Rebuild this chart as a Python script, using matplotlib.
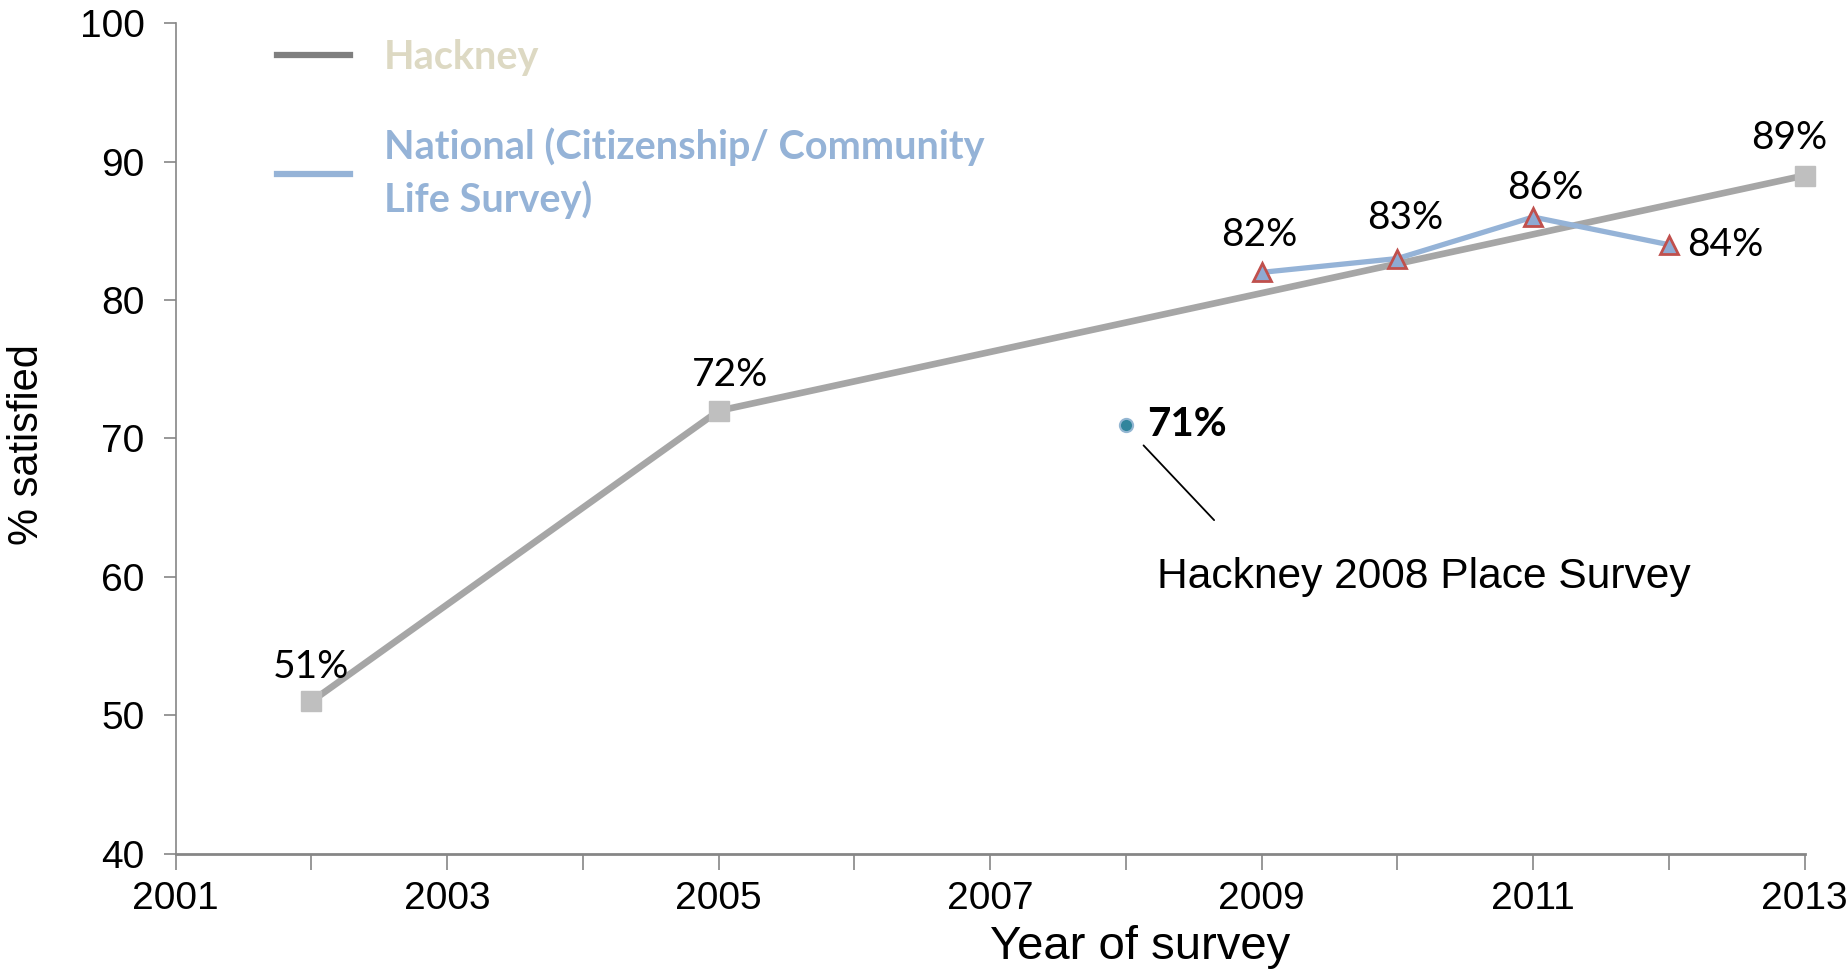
import matplotlib.pyplot as plt
from matplotlib.lines import Line2D

# data
hackney_years = [2002, 2005, 2013]
hackney_vals = [51, 72, 89]
national_years = [2009, 2010, 2011, 2012]
national_vals = [82, 83, 86, 84]
place_year = [2008]
place_val = [71]

# label offsets in points (dx, dy)
hackney_offsets = [(0, 25), (8, 26), (-11, 27)]
national_offsets = [(-2, 27), (6, 29), (9, 21), (13, 0)]

grey_line = '#a6a6a6'
grey_marker = '#bfbfbf'
blue = '#95b3d7'
red = '#c0504d'
axis_col = '#868686'

label_font = 'Lato'
arial = 'Liberation Sans'

fig = plt.figure(figsize=(18.49, 9.69), dpi=100)
ax = fig.add_axes([0.095, 0.119, 0.881, 0.857])

ax.plot(hackney_years, hackney_vals, color=grey_line, lw=4.8, marker='s',
        ms=15, mfc=grey_marker, mec=grey_marker, zorder=3, clip_on=False)
ax.plot(national_years, national_vals, color=blue, lw=3.8, marker='^',
        ms=13.5, mfc='#8eaad3', mec=red, mew=2, zorder=4)
ax.plot(place_year, place_val, ls='none', marker='o', ms=9.5,
        mfc='#31859c', mec='#93b6d2', mew=1.5, zorder=4)

for x, y, off in zip(hackney_years, hackney_vals, hackney_offsets):
    ax.annotate(f'{y}%', (x, y), xytext=off, textcoords='offset points',
                ha='center', va='center', fontsize=28, family=label_font)
for i, (x, y, off) in enumerate(zip(national_years, national_vals, national_offsets)):
    ha = 'left' if i == len(national_years) - 1 else 'center'
    ax.annotate(f'{y}%', (x, y), xytext=off, textcoords='offset points',
                ha=ha, va='center', fontsize=28, family=label_font)
ax.annotate(f'{place_val[0]}%', (place_year[0], place_val[0]), xytext=(15, 0),
            textcoords='offset points', ha='left', va='center', fontsize=29,
            family=label_font, fontweight='bold')

# leader line and note for the 2008 survey
note_start = (2008.13, 69.5)
note_end = (2008.65, 64.1)
ax.annotate('', xy=note_start, xytext=note_end,
            arrowprops=dict(arrowstyle='-', color='black', lw=1.3, shrinkA=0, shrinkB=0))
ax.text(2008.23, 60.0, 'Hackney 2008 Place Survey', fontsize=30.6, family=arial,
        ha='left', va='center')

ax.set_xlim(2001, 2013)
ax.set_ylim(40, 100)
years = list(range(2001, 2014))
ax.set_xticks(years)
ax.set_xticklabels([str(y) if y % 2 == 1 else '' for y in years])
ax.set_yticks(range(40, 101, 10))

for s in ['top', 'right']:
    ax.spines[s].set_visible(False)
ax.spines['left'].set_color(axis_col)
ax.spines['left'].set_linewidth(1.2)
ax.spines['bottom'].set_color(axis_col)
ax.spines['bottom'].set_linewidth(2)

ax.tick_params(axis='y', direction='out', length=8.5, width=1.2, color=axis_col,
               pad=14, labelsize=28)
ax.tick_params(axis='x', direction='out', length=11.5, width=1.2, color=axis_col,
               pad=8, labelsize=28)
for lab in ax.get_xticklabels() + ax.get_yticklabels():
    lab.set_family(arial)

ax.set_ylabel('% satisfied', fontsize=30, family=arial)
ax.yaxis.set_label_coords(-0.091, 0.493)
ax.yaxis.label.set_va('center')
ax.set_xlabel('Year of survey', fontsize=34, family=arial)
ax.xaxis.set_label_coords(0.592, -0.112)
ax.xaxis.label.set_va('center')

handles = [Line2D([], [], color='#7f7f7f', lw=4.5),
           Line2D([], [], color=blue, lw=4.5)]
leg = ax.legend(handles, ['Hackney', 'National (Citizenship/ Community\nLife Survey)'],
                loc='upper left', bbox_to_anchor=(0.062, 0.981), frameon=False,
                borderpad=0, borderaxespad=0, handlelength=1.85, handletextpad=0.85,
                labelspacing=1.3, labelcolor=['#ddd9c3', blue],
                prop=dict(family=label_font, weight='bold', size=28.5))
for t in leg.get_texts():
    t.set_linespacing(1.45)

fig.savefig('out.png', dpi=100)
